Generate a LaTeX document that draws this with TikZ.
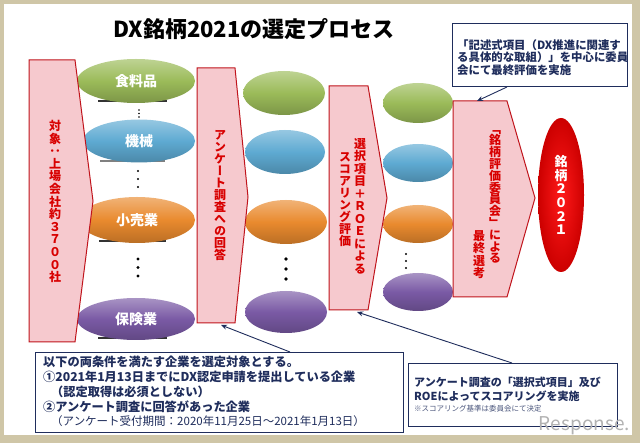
\documentclass[tikz,border=0pt]{standalone}
\usepackage{fontspec}
\setmainfont{Noto Sans CJK JP}
\newfontfamily\vjp[RawFeature=+vert]{Noto Sans CJK JP}
\usetikzlibrary{arrows.meta}

\definecolor{framec}{HTML}{CFC6A7}
\definecolor{pinkf}{HTML}{F6C9CE}
\definecolor{redb}{HTML}{C0141C}
\definecolor{redt}{HTML}{D80000}
\definecolor{navy}{HTML}{1F2D5C}
\definecolor{gr}{HTML}{9BBB59}
\definecolor{bl}{HTML}{5EAAD2}
\definecolor{orn}{HTML}{E98A2E}
\definecolor{pur}{HTML}{7A5AA5}

\makeatletter
\newcommand\vst[2][12pt]{\vbox{\baselineskip=#1\lineskiplimit=-20pt\lineskip=0pt\vst@#2\relax}}
\def\vst@#1{\ifx\relax#1\else\hbox to 1em{\hss#1\hss}\expandafter\vst@\fi}
\makeatother

\tikzset{
  pent/.style={fill=pinkf, draw=redb, line width=1pt, line join=miter},
  vlab/.style={inner sep=0pt, anchor=north, text=redt, font=\vjp\bfseries\fontsize{12}{12}\selectfont},
  elab/.style={inner sep=0pt, text=white, font=\bfseries\fontsize{14}{14}\selectfont},
  boxs/.style={draw=navy, line width=1.2pt, fill=white, inner sep=0pt, anchor=north west},
  btxt/.style={inner sep=0pt, anchor=base west, text=navy, font=\bfseries\fontsize{12.2}{12.2}\selectfont},
  conn/.style={draw=navy, line width=0.9pt, -{Stealth[length=6pt,width=5pt]}},
  shd/.style={line width=1.4pt, black!80},
}

\newcommand\myell[5]{\shade[top color=#5!65!white, bottom color=#5!80!black, middle color=#5] (#1,#2) ellipse [x radius=#3, y radius=#4];}

\begin{document}
\begin{tikzpicture}[x=1pt,y=-1pt]
\useasboundingbox (0,0) rectangle (640,443);
\fill[framec] (0,0) rectangle (640,443);
\fill[white] (4,4) rectangle (632,435);

% title
\node[inner sep=0pt, font=\bfseries\fontsize{22}{22}\selectfont] (title) at (254,29) {DX銘柄2021の選定プロセス};

% shadow lines under column 1
\draw[shd] (98,101) -- (167,101);
\draw[shd, black!50] (100,161) -- (165,161);
\draw[shd] (99,241) -- (166,241);
\draw[shd] (98,338) -- (167,338);

% column 1 ellipses
\myell{136}{81}{59}{22}{gr}
\myell{139}{141}{56}{21.5}{bl}
\myell{137}{220}{58}{23}{orn}
\myell{136}{319}{59}{21}{pur}
\node[elab] (c1a) at (136,81) {食料品};
\node[elab] (c1b) at (139,141) {機械};
\node[elab] (c1c) at (137,220) {小売業};
\node[elab] (c1d) at (136,319) {保険業};
\foreach \yy in {110,113.5,117} \fill (139,\yy) circle (0.8);
\foreach \yy in {171,179,187} \fill (138,\yy) circle (1.2);
\foreach \yy in {259,267.5,276} \fill (138,\yy) circle (1.7);

% column 2 ellipses
\myell{284}{93}{41}{22}{gr}
\myell{285}{152}{40}{22}{bl}
\myell{286}{222}{41}{22}{orn}
\myell{286}{312}{41}{21}{pur}
\foreach \yy in {259,269,279} \fill (286,\yy) circle (1.8);

% column 3 ellipses
\myell{418}{103}{35}{20}{gr}
\myell{418}{163}{35}{19}{bl}
\myell{418}{224}{35}{19}{orn}
\myell{418}{292}{35}{19}{pur}
\foreach \yy in {254,261,268} \fill (406,\yy) circle (1.2);

% pentagons
\draw[pent] (29,60) -- (75,60) -- (93,201) -- (75,342) -- (29,342) -- cycle;
\draw[pent] (197,68) -- (235,68) -- (248,197) -- (235,323) -- (197,323) -- cycle;
\draw[pent] (329,86) -- (368,86) -- (387,198) -- (368,310) -- (329,310) -- cycle;
\draw[pent] (453,101) -- (507,101) -- (535,198) -- (507,297) -- (453,297) -- cycle;

\node[vlab] (p1t) at (55,120) {\vst[12.6pt]{対象：上場会社約３７００社}};
\node[vlab] (p2t) at (220,130) {\vst[12pt]{アンケート調査への回答}};
\node[vlab] (p3a) at (360,138) {\vst[12.5pt]{選択項目＋ＲＯＥによる}};
\node[vlab] (p3b) at (345,152) {\vst[12pt]{スコアリング評価}};
\node[vlab] (p4a) at (495,130) {\vst[11.8pt]{「銘柄評価委員会」による}};
\node[vlab] (p4b) at (479,230) {\vst[12.5pt]{最終選考}};

% final ellipse
\shade[inner color=red!90!white, outer color=red!80!black] (561,195) ellipse [x radius=23, y radius=77];
\node[vlab, text=white, font=\vjp\bfseries\fontsize{13}{13}\selectfont] (fin) at (561,155) {\vst[13.7pt]{銘柄２０２１}};

% top right box
\node[boxs, minimum width=175, minimum height=63] (tr) at (452,23) {};
\node[inner sep=0pt, anchor=north west, align=left, text=navy, font=\bfseries\fontsize{11.4}{12.8}\selectfont] (trt) at (457,39) {「記述式項目（DX推進に関連す\\る具体的な取組）」を中心に委員\\会にて最終評価を実施};

% bottom left box
\node[boxs, minimum width=368, minimum height=80] (bl) at (35,352) {};
\node[btxt] (bl1) at (43,367) {以下の両条件を満たす企業を選定対象とする。};
\node[btxt] (bl2) at (43,382) {①2021年1月13日までにDX認定申請を提出している企業};
\node[btxt] (bl3) at (51,397) {（認定取得は必須としない）};
\node[btxt] (bl4) at (43,411.5) {②アンケート調査に回答があった企業};
\node[btxt, font=\fontsize{11.5}{11.5}\selectfont] (bl5) at (51,426) {（アンケート受付期間：2020年11月25日～2021年1月13日）};

% bottom right box
\node[boxs, minimum width=209, minimum height=63] (br) at (408,363) {};
\node[btxt, font=\bfseries\fontsize{11}{11}\selectfont] (br1) at (414,387) {アンケート調査の「選択式項目」及び};
\node[btxt, font=\bfseries\fontsize{11}{11}\selectfont] (br2) at (414,401) {ROEによってスコアリングを実施};
\node[btxt, font=\fontsize{7.5}{7.5}\selectfont, text=navy!80] (br3) at (414,412) {※スコアリング基準は委員会にて決定};

% watermark
\node[inner sep=0pt, anchor=base east, text=gray!60, font=\fontsize{19}{19}\selectfont] (wm) at (630,431) {Response.};

% connectors
\coordinate (trs) at (507,87);
\coordinate (p4n) at (477,101);
\coordinate (bls) at (290,352);
\coordinate (p2s) at (221,325);
\coordinate (brs) at (512,363);
\coordinate (p3s) at (357,312);
\draw[conn] (trs) -- (p4n);
\draw[conn] (bls) -- (p2s);
\draw[conn] (brs) -- (p3s);
\end{tikzpicture}
\end{document}
